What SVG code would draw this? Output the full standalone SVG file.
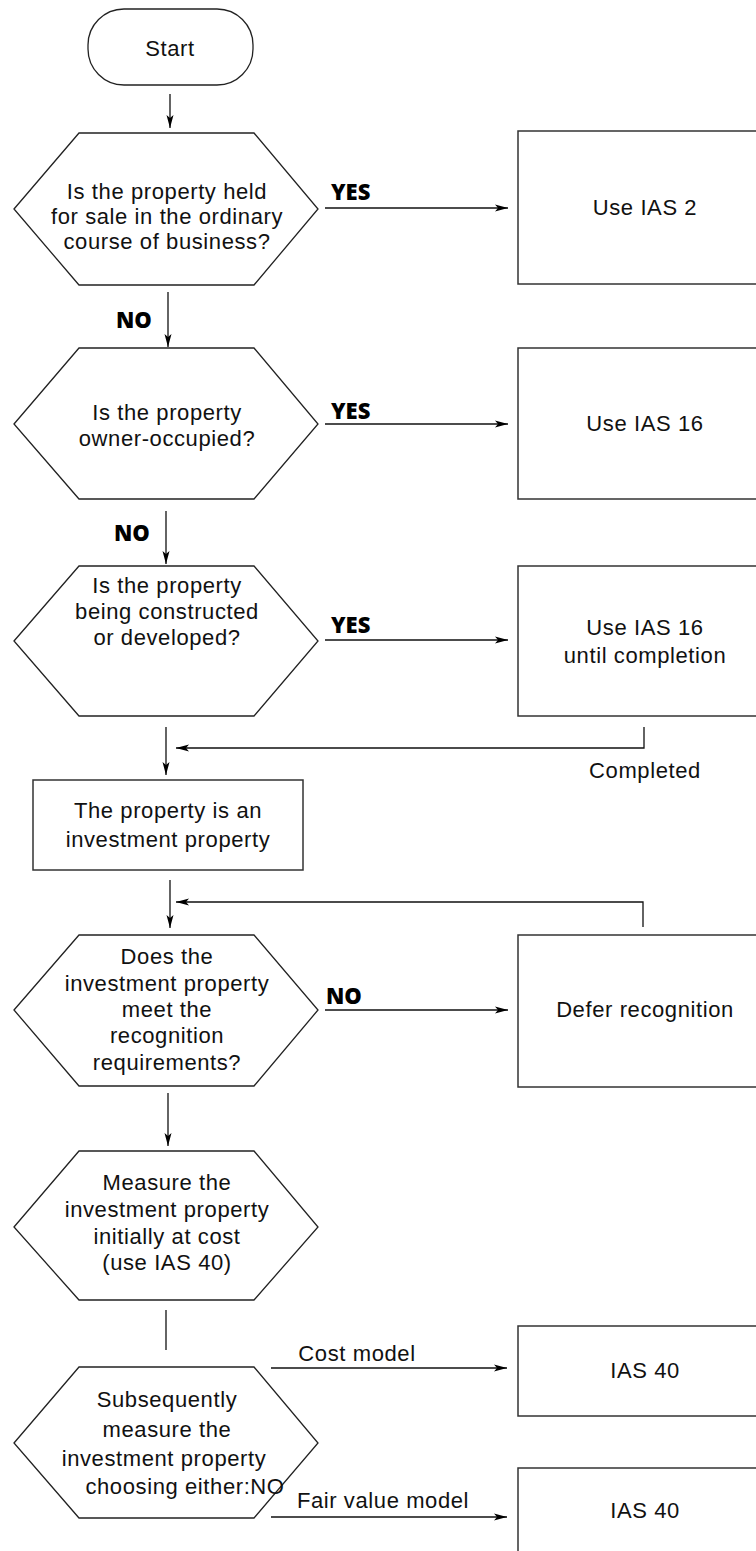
<svg xmlns="http://www.w3.org/2000/svg" width="756" height="1551" viewBox="0 0 756 1551">
<style>
  .shape { fill: #fff; stroke: #222; stroke-width: 1.3; }
  .box { fill: #fff; stroke: #333; stroke-width: 1.5; }
  .t { font-family: "Liberation Sans", Arial, sans-serif; font-size: 22px; letter-spacing: 0.6px; fill: #111; text-anchor: middle; }
  .b { font-family: "Open Sans", "Noto Sans", sans-serif; font-size: 22px; font-weight: 800; fill: #000; }
  .c { fill: none; stroke: #111; stroke-width: 1.3; }
</style>
<defs>
  <marker id="ah" markerUnits="userSpaceOnUse" markerWidth="14" markerHeight="8" refX="13" refY="4" orient="auto">
    <path d="M0,0.5 L13,4 L0,7.5 L3,4 Z" fill="#000"/>
  </marker>
</defs>
<rect width="756" height="1551" fill="#fff"/>

<g id="connectors">
  <line class="c" x1="170" y1="94" x2="170" y2="128" marker-end="url(#ah)"/>
  <line class="c" x1="325" y1="208" x2="508" y2="208" marker-end="url(#ah)"/>
  <line class="c" x1="168" y1="292" x2="168" y2="347" marker-end="url(#ah)"/>
  <line class="c" x1="325" y1="424" x2="508" y2="424" marker-end="url(#ah)"/>
  <line class="c" x1="166" y1="511" x2="166" y2="564" marker-end="url(#ah)"/>
  <line class="c" x1="325" y1="640" x2="508" y2="640" marker-end="url(#ah)"/>
  <polyline class="c" points="644,727 644,748 176,748" marker-end="url(#ah)"/>
  <line class="c" x1="166" y1="727" x2="166" y2="775" marker-end="url(#ah)"/>
  <line class="c" x1="170" y1="880" x2="170" y2="928" marker-end="url(#ah)"/>
  <polyline class="c" points="643,927 643,902 176,902" marker-end="url(#ah)"/>
  <line class="c" x1="325" y1="1010" x2="508" y2="1010" marker-end="url(#ah)"/>
  <line class="c" x1="168" y1="1093" x2="168" y2="1146" marker-end="url(#ah)"/>
  <line class="c" x1="166" y1="1310" x2="166" y2="1350"/>
  <line class="c" x1="271" y1="1368" x2="507" y2="1368" marker-end="url(#ah)"/>
  <line class="c" x1="271" y1="1517" x2="507" y2="1517" marker-end="url(#ah)"/>
  <text class="b" x="331" y="200">YES</text>
  <text class="b" x="116" y="328">NO</text>
  <text class="b" x="331" y="419">YES</text>
  <text class="b" x="114" y="541">NO</text>
  <text class="b" x="331" y="633">YES</text>
  <text class="t" x="645" y="778">Completed</text>
  <text class="b" x="326" y="1004">NO</text>
  <text class="t" x="357" y="1361">Cost model</text>
  <text class="t" x="383" y="1508">Fair value model</text>
</g>

<g id="start">
  <rect class="shape" x="88" y="9" width="165" height="76" rx="36" ry="36"/>
  <text class="t" x="170" y="56">Start</text>
</g>

<g id="q1">
  <polygon class="shape" points="14,209 79,133 254,133 318,209 254,285 79,285"/>
  <text class="t" x="167" y="199">Is the property held<tspan x="167" dy="25">for sale in the ordinary</tspan><tspan x="167" dy="25">course of business?</tspan></text>
</g>

<g id="ias2">
  <rect class="box" x="518" y="131" width="260" height="153"/>
  <text class="t" x="645" y="215">Use IAS 2</text>
</g>

<g id="q2">
  <polygon class="shape" points="14,424 79,348 254,348 318,424 254,499 79,499"/>
  <text class="t" x="167" y="420">Is the property<tspan x="167" dy="26">owner-occupied?</tspan></text>
</g>

<g id="ias16">
  <rect class="box" x="518" y="348" width="260" height="151"/>
  <text class="t" x="645" y="431">Use IAS 16</text>
</g>

<g id="q3">
  <polygon class="shape" points="14,641 79,566 254,566 318,641 254,716 79,716"/>
  <text class="t" x="167" y="593">Is the property<tspan x="167" dy="26">being constructed</tspan><tspan x="167" dy="26">or developed?</tspan></text>
</g>

<g id="ias16c">
  <rect class="box" x="518" y="566" width="260" height="150"/>
  <text class="t" x="645" y="635">Use IAS 16<tspan x="645" dy="28">until completion</tspan></text>
</g>

<g id="invprop">
  <rect class="box" x="33" y="780" width="270" height="90"/>
  <text class="t" x="168" y="818">The property is an<tspan x="168" dy="29">investment property</tspan></text>
</g>

<g id="q4">
  <polygon class="shape" points="14,1010 79,935 254,935 318,1010 254,1086 79,1086"/>
  <text class="t" x="167" y="964">Does the<tspan x="167" dy="27">investment property</tspan><tspan x="167" dy="26">meet the</tspan><tspan x="167" dy="26">recognition</tspan><tspan x="167" dy="27">requirements?</tspan></text>
</g>

<g id="defer">
  <rect class="box" x="518" y="935" width="260" height="152"/>
  <text class="t" x="645" y="1017">Defer recognition</text>
</g>

<g id="measure">
  <polygon class="shape" points="14,1227 79,1151 254,1151 318,1227 254,1300 79,1300"/>
  <text class="t" x="167" y="1190">Measure the<tspan x="167" dy="27">investment property</tspan><tspan x="167" dy="27">initially at cost</tspan><tspan x="167" dy="26">(use IAS 40)</tspan></text>
</g>

<g id="subsequent">
  <polygon class="shape" points="14,1443 79,1367 254,1367 318,1443 254,1518 79,1518"/>
  <text class="t" x="167" y="1407">Subsequently<tspan x="167" dy="30">measure the</tspan><tspan x="164" dy="29">investment property</tspan><tspan x="185" dy="28">choosing either:NO</tspan></text>
</g>

<g id="cost">
  <rect class="box" x="518" y="1326" width="260" height="90"/>
  <text class="t" x="645" y="1378">IAS 40</text>
</g>

<g id="fair">
  <rect class="box" x="518" y="1468" width="260" height="100"/>
  <text class="t" x="645" y="1518">IAS 40</text>
</g>
</svg>
